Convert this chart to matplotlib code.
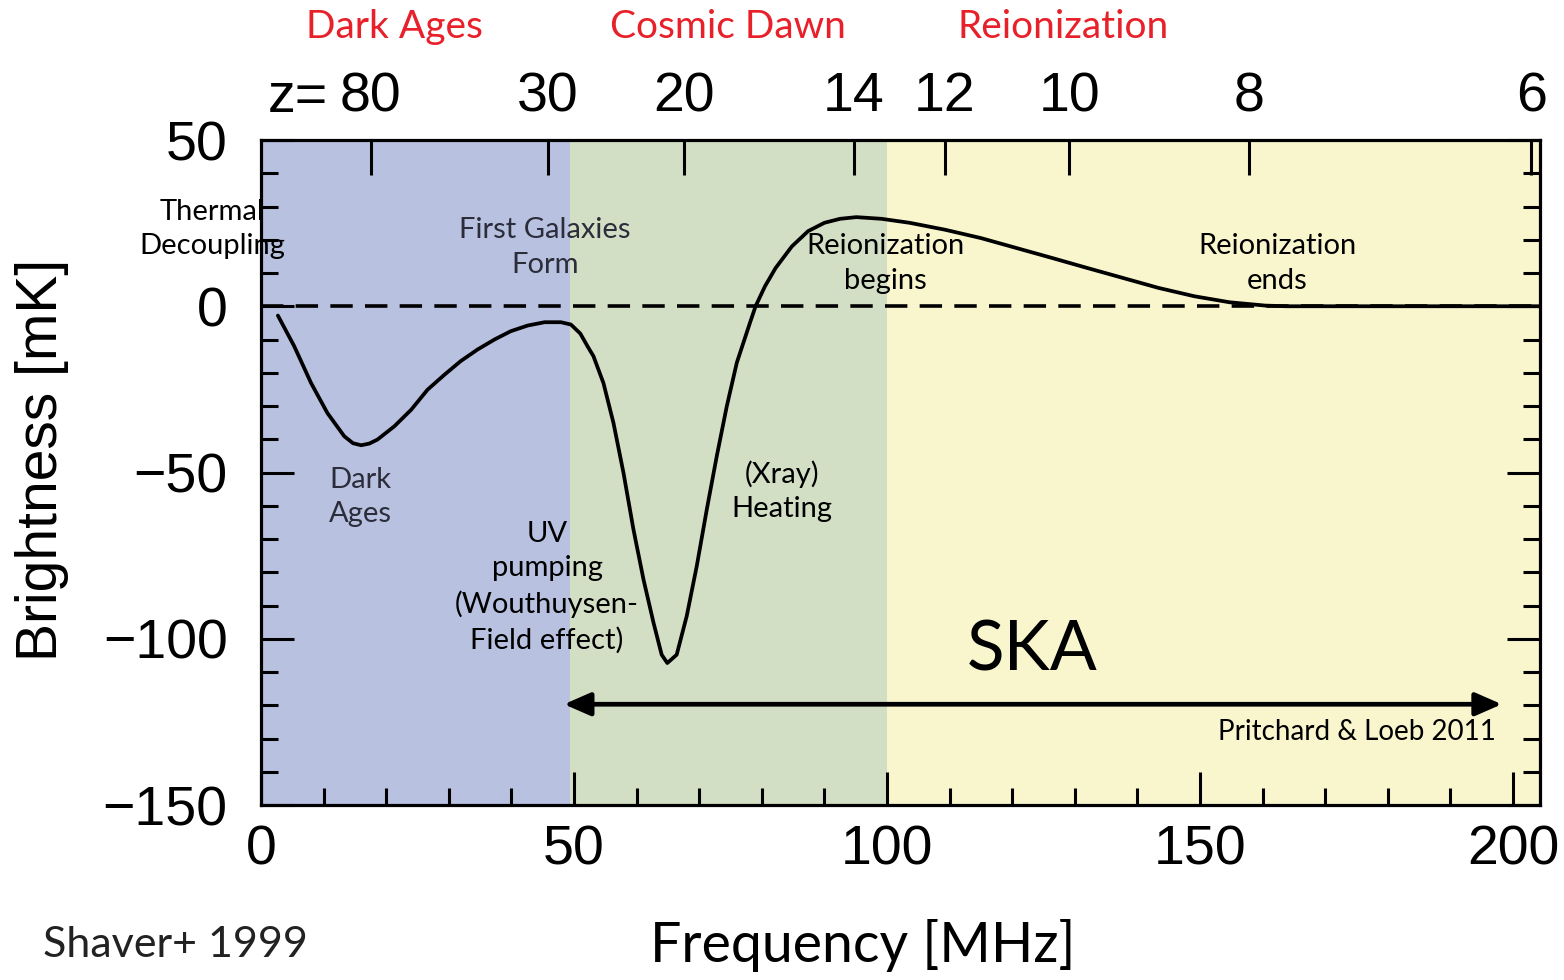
import matplotlib
matplotlib.use("Agg")
import matplotlib.pyplot as plt
from matplotlib.ticker import MultipleLocator, FixedLocator

# 21-cm global signal: brightness temperature vs observed frequency
freq_mhz = [2.7, 5.3, 8.0, 10.6, 13.3, 14.7, 16.0, 17.3, 18.6, 21.3, 24.0, 26.6, 29.3, 31.9,
            34.6, 37.3, 39.9, 42.6, 45.3, 47.9, 49.5, 51.0, 52.3, 53.1, 54.7, 56.3,
            57.9, 59.5, 61.1, 62.7, 64.0, 64.9, 66.4, 68.0, 69.6, 71.2, 72.8, 74.4,
            76.0, 78.1, 79.0, 80.5, 82.2, 84.8, 87.4, 90.0, 92.5, 95.1, 99.1, 103.6,
            109.3, 115.0, 120.7, 126.4, 132.0, 137.7, 143.4, 149.1, 154.7, 160.4,
            163.8, 205.0]
tb_mk = [-2.8, -12.0, -23.1, -32.1, -39.1, -41.2, -41.8, -41.3, -40.1, -36.1, -31.1, -25.1, -20.6, -16.5,
         -13.0, -10.0, -7.5, -5.8, -4.8, -4.8, -5.5, -8.2, -12.5, -15.0, -23.1, -35.1,
         -50.1, -67.2, -82.2, -95.2, -104.8, -107.3, -104.8, -93.2, -78.2, -61.2, -45.1, -30.1,
         -17.0, -5.0, 0.0, 6.0, 11.5, 18.0, 22.6, 25.1, 26.3, 26.8, 26.3, 25.1,
         23.0, 20.5, 17.5, 14.5, 11.5, 8.5, 5.5, 3.0, 1.2, 0.2,
         0.0, 0.0]

# epochs shaded along the frequency axis
epoch_edges = [0.0, 49.3, 100.0, 204.3]
epoch_colors = ["#B8C2E0", "#D3DFC5", "#F9F6CE"]
epoch_names = ["Dark Ages", "Cosmic Dawn", "Reionization"]

# redshift ticks on the top axis
z_labels = [80, 30, 20, 14, 12, 10, 8, 6]
z_freqs = [1420.4 / (1 + z) for z in z_labels]

x_ticks = [0, 50, 100, 150, 200]
y_ticks = [50, 0, -50, -100, -150]

# SKA frequency coverage
ska_range = [48.4, 198.2]
ska_level = -119.7

fig = plt.figure(figsize=(15.64, 9.8), dpi=100)
ax = fig.add_axes([261 / 1564, 1 - 805 / 980, (1540 - 261) / 1564, (805 - 140) / 980])

tick_font = "Liberation Sans"
note_font = "Lato"

for lo, hi, c in zip(epoch_edges[:-1], epoch_edges[1:], epoch_colors):
    ax.axvspan(lo, hi, color=c, lw=0, zorder=0)

ax.axhline(0, color="black", lw=2.6, dashes=(6.2, 3.4), zorder=2)
ax.plot(freq_mhz, tb_mk, color="black", lw=2.7, zorder=3,
        solid_joinstyle="round", solid_capstyle="round")

ax.annotate("", xy=(ska_range[0], ska_level), xytext=(ska_range[1], ska_level),
            arrowprops=dict(arrowstyle="<|-|>,head_length=0.8,head_width=0.35",
                            mutation_scale=20, color="black", lw=3.4,
                            shrinkA=0, shrinkB=0), zorder=4)

ax.set_xlim(epoch_edges[0], epoch_edges[-1])
ax.set_ylim(-150, 50)

for s in ax.spines.values():
    s.set_linewidth(2.3)
    s.set_zorder(6)

ax.xaxis.set_major_locator(FixedLocator(x_ticks))
ax.xaxis.set_minor_locator(MultipleLocator(10))
ax.yaxis.set_major_locator(FixedLocator(y_ticks))
ax.yaxis.set_minor_locator(MultipleLocator(10))
ax.tick_params(axis="both", which="both", direction="in", top=False, right=True,
               width=2.2, color="black")
ax.tick_params(axis="both", which="major", length=24)
ax.tick_params(axis="both", which="minor", length=12)
ax.tick_params(axis="x", which="major", pad=14)
ax.tick_params(axis="y", which="major", pad=24)
for lbl in ax.get_xticklabels() + ax.get_yticklabels():
    lbl.set_fontfamily(tick_font)
    lbl.set_fontsize(40)

# top redshift axis
axt = ax.twiny()
axt.set_xlim(ax.get_xlim())
axt.xaxis.set_major_locator(FixedLocator(z_freqs))
axt.set_xticklabels([str(z) for z in z_labels], fontfamily=tick_font, fontsize=40)
axt.tick_params(axis="x", which="major", direction="in", length=25, width=2.2, pad=12)
axt.xaxis.set_minor_locator(FixedLocator([]))
for s in axt.spines.values():
    s.set_visible(False)
fig.text(298 / 1564, 1 - 112 / 980, "z=", fontfamily=tick_font, fontsize=40,
         ha="center", va="baseline")

# epoch names along the top
for name, xc in zip(epoch_names, [394, 728, 1063]):
    fig.text(xc / 1564, 1 - 27 / 980, name, fontfamily=note_font, fontsize=28,
             color="#E8202A", ha="center", va="center")

# axis titles and credits
fig.text(42 / 1564, 1 - 460 / 980, "Brightness [mK]", fontfamily=tick_font,
         fontsize=41, rotation=90, ha="center", va="center")
fig.text(863 / 1564, 1 - 945 / 980, "Frequency [MHz]", fontfamily=note_font,
         fontsize=40, ha="center", va="center")
fig.text(43 / 1564, 1 - 945 / 980, "Shaver+ 1999", fontfamily=note_font,
         fontsize=31, ha="left", va="center", color="#222222")

# annotations inside the plot
notes = [
    ("Thermal\nDecoupling", -7.8, 23.2, "black"),
    ("First Galaxies\nForm", 45.4, 17.7, "#2b2d3a"),
    ("Dark\nAges", 15.8, -57.4, "#2b2d3a"),
    ("UV\npumping\n(Wouthuysen-\nField effect)", 45.7, -84.5, "black"),
    ("(Xray)\nHeating", 83.2, -55.6, "black"),
    ("Reionization\nbegins", 99.7, 12.9, "black"),
    ("Reionization\nends", 162.3, 12.9, "black"),
]
for txt, x, y, c in notes:
    ax.text(x, y, txt, fontfamily=note_font, fontsize=21, color=c, ha="center",
            va="center", linespacing=1.4, clip_on=False, zorder=5)

ax.text(123.2, -103.8, "SKA", fontfamily=note_font, fontsize=50, ha="center",
        va="center", zorder=5)
ax.text(175.1, -128.1, "Pritchard & Loeb 2011", fontfamily=note_font, fontsize=20,
        ha="center", va="center", zorder=5)

fig.savefig("out.png", dpi=100)
